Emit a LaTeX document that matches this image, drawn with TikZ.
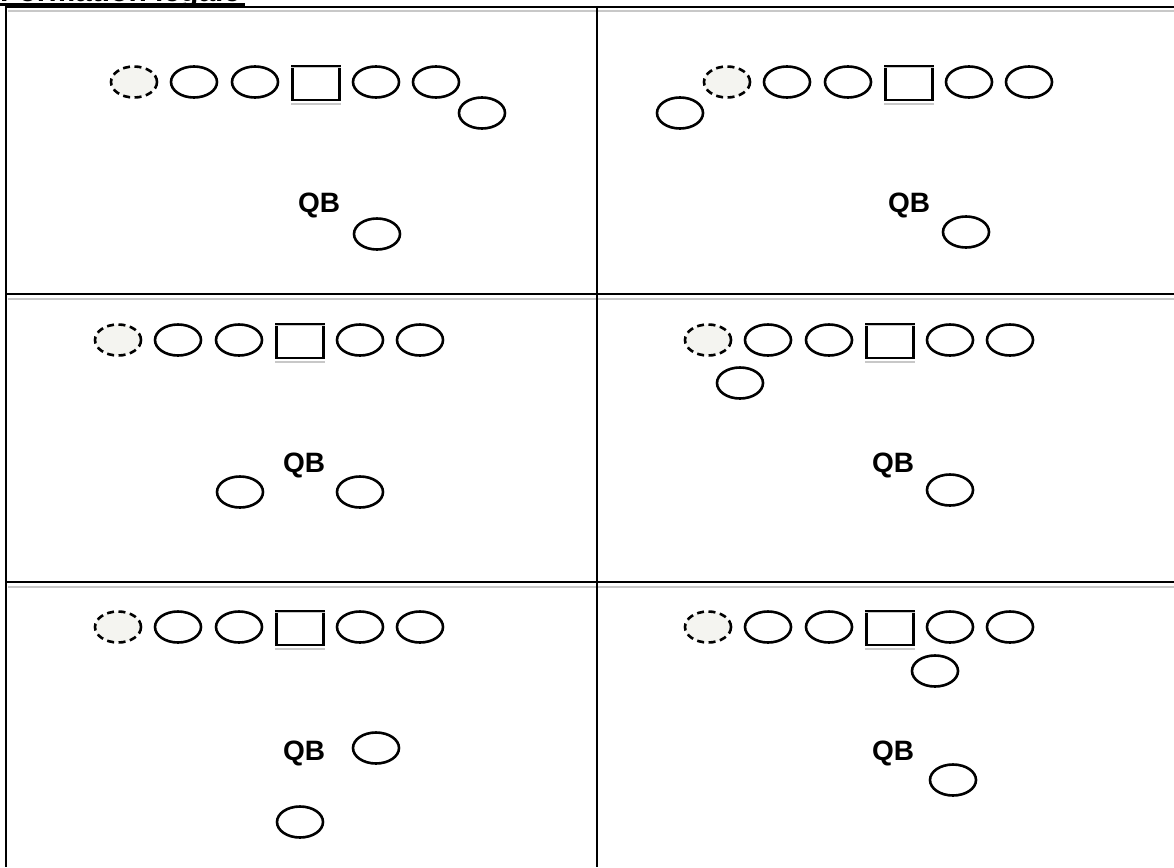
\documentclass[tikz,border=0pt]{standalone}
\usepackage{fontspec}
\setmainfont{Liberation Sans}
\usetikzlibrary{shapes.geometric}
\definecolor{shade}{HTML}{F4F4F0}
\definecolor{rule}{HTML}{C8C8C8}
\tikzset{
  player/.style={ellipse, draw, line width=2.6pt, minimum width=46pt, minimum height=31pt, inner sep=0pt},
  endplayer/.style={player, dashed, dash pattern=on 7pt off 4.5pt, fill=shade},
  center/.style={rectangle, draw, line width=2.2pt, minimum width=47pt, minimum height=34pt, inner sep=0pt},
  qb/.style={font=\bfseries\fontsize{28}{28}\selectfont, inner sep=0pt, anchor=base west},
  grid/.style={line width=2.4pt},
  gridshade/.style={rule, line width=2pt},
}
\newcommand{\oline}[3]{% prefix, x of end man, y
  \node[endplayer] (#1e) at (#2,#3) {};
  \node[player] (#1g1) at (#2+60,#3) {};
  \node[player] (#1g2) at (#2+121,#3) {};
  \node[center] (#1c) at (#2+182,#3+1) {};
  \draw[rule, line width=1.5pt] ([yshift=-3pt]#1c.south west) -- ([yshift=-3pt]#1c.south east);
  \draw[rule, line width=1pt] ([yshift=-2.5pt]#1c.north west) -- ([yshift=-2.5pt]#1c.north east);
  \node[player] (#1t1) at (#2+242,#3) {};
  \node[player] (#1t2) at (#2+302,#3) {};
}
\begin{document}
\begin{tikzpicture}[x=1pt,y=-1pt]
\useasboundingbox (0,0) rectangle (1174,867);
% title (cut off at top edge, as in the reference)
\node[anchor=base west, inner sep=0pt, font=\bfseries\fontsize{30}{30}\selectfont] (title) at (0,2) {Formation légale};
\draw[line width=2.2pt] (0,4.5) -- (245,4.5);
% grid
\draw[gridshade] (8,11) -- (1174,11);
\draw[gridshade] (8,299) -- (1174,299);
\draw[gridshade] (8,587) -- (1174,587);
\draw[grid] (6,7) -- (1174,7);
\draw[grid] (6,6) -- (6,867);
\draw[grid] (597,6) -- (597,867);
\draw[grid] (6,294) -- (1174,294);
\draw[grid] (6,582) -- (1174,582);
% cell 1 (top left)
\oline{a}{134}{82}
\node[player] (ate) at (482,113) {};
\node[qb] (aqbl) at (298,212) {QB};
\node[player] (aqb) at (377,234) {};
% cell 2 (top right)
\oline{b}{727}{82}
\node[player] (bwr) at (680,113) {};
\node[qb] (bqbl) at (888,212) {QB};
\node[player] (bqb) at (966,232) {};
% cell 3 (middle left)
\oline{c}{118}{340}
\node[qb] (cqbl) at (283,472) {QB};
\node[player] (cb1) at (240,492) {};
\node[player] (cb2) at (360,492) {};
% cell 4 (middle right)
\oline{d}{708}{340}
\node[player] (dwr) at (740,383) {};
\node[qb] (dqbl) at (872,472) {QB};
\node[player] (dqb) at (950,490) {};
% cell 5 (bottom left)
\oline{e}{118}{627}
\node[qb] (eqbl) at (283,760) {QB};
\node[player] (eb1) at (376,748) {};
\node[player] (eb2) at (300,822) {};
% cell 6 (bottom right)
\oline{f}{708}{627}
\node[player] (fte) at (935,671) {};
\node[qb] (fqbl) at (872,760) {QB};
\node[player] (fqb) at (953,780) {};
\end{tikzpicture}
\end{document}
